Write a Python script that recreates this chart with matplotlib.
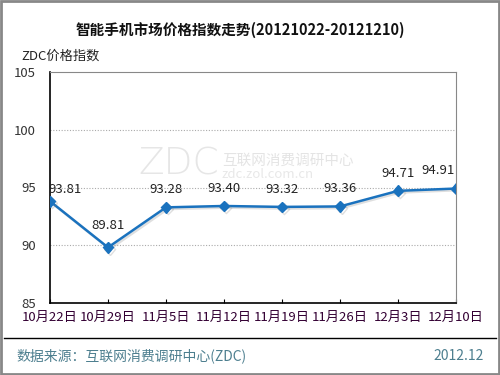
import matplotlib
matplotlib.use("Agg")
import matplotlib.pyplot as plt
import matplotlib.patheffects as pe
from matplotlib.patches import Rectangle

plt.rcParams['font.family'] = ['Noto Sans CJK SC', 'DejaVu Sans']

dates = ['10月22日', '10月29日', '11月5日', '11月12日', '11月19日', '11月26日', '12月3日', '12月10日']
index = [93.81, 89.81, 93.28, 93.40, 93.32, 93.36, 94.71, 94.91]
yticks = [85, 90, 95, 100, 105]

line_color = '#1a72be'
foot_color = '#4d7f8f'

fig = plt.figure(figsize=(5, 3.75), dpi=100)
ax = fig.add_axes([50 / 500, 1 - 303 / 375, 406 / 500, 231 / 375])

x = list(range(len(dates)))
ax.plot(x, index, color=line_color, lw=1.8, marker='D', ms=5.5, zorder=3,
        path_effects=[pe.SimpleLineShadow(offset=(1.2, -1.2), shadow_color='gray', alpha=0.25), pe.Normal()])

# value labels above points
for i, v in enumerate(index):
    dx, dy = 0, 8
    if i == 0:
        dx, dy = 11, 4
    elif i == len(index) - 1:
        dx, dy = -13, 8
    elif i == 1:
        dy = 11
    ax.annotate(f'{v:.2f}', (i, v), xytext=(dx, dy), textcoords='offset points',
                ha='center', va='bottom', fontsize=9.5, color='#222222')

ax.set_xlim(0, len(dates) - 1)
ax.set_ylim(85, 105)
ax.set_yticks(yticks)
ax.set_yticklabels([str(t) for t in yticks], fontsize=9.5, color='#333333')
ax.set_xticks(x)
ax.set_xticklabels(dates, fontsize=9.5, color='#330033')
ax.tick_params(axis='x', direction='in', length=3, pad=6)
ax.tick_params(axis='y', length=0, pad=10)
for t in [90, 95, 100]:
    ax.axhline(t, color='#aaaaaa', lw=0.8, ls=(0, (1, 1.5)), zorder=1)
ax.spines['left'].set_color('black')
ax.spines['bottom'].set_color('black')
ax.spines['top'].set_color('#888888')
ax.spines['right'].set_color('#888888')
for s in ['left', 'bottom']:
    ax.spines[s].set_linewidth(1.2)

# watermark
fig.text(138 / 500, 1 - 164 / 375, 'ZDC', fontsize=27, color='#e6e6e6', va='center', ha='left',
         family=['DejaVu Sans'], fontweight='light', zorder=0)
fig.text(222 / 500, 1 - 161 / 375, '互联网消费调研中心', fontsize=10.5, color='#e4e4e4', va='center',
         ha='left', zorder=0)
fig.text(222 / 500, 1 - 175 / 375, 'zdc.zol.com.cn', fontsize=9.5, color='#e8e8e8', va='center',
         ha='left', zorder=0)

fig.text(240 / 500, 1 - 30 / 375, '智能手机市场价格指数走势(20121022-20121210)', fontsize=10.5,
         fontweight='bold', ha='center', va='center', color='#111111')
fig.text(21 / 500, 1 - 56 / 375, 'ZDC价格指数', fontsize=9.5, ha='left', va='center', color='#222222')

fig.add_artist(plt.Line2D([4 / 500, 496 / 500], [1 - 338 / 375] * 2, color='black', lw=1))
fig.text(16 / 500, 1 - 356 / 375, '数据来源：互联网消费调研中心(ZDC)', fontsize=10, color=foot_color,
         ha='left', va='center')
fig.text(484 / 500, 1 - 356 / 375, '2012.12', fontsize=10, color=foot_color, ha='right', va='center')

fig.add_artist(Rectangle((0.002, 0.003), 0.996, 0.994, transform=fig.transFigure, fill=False,
                         edgecolor='#888888', lw=2))

fig.savefig('out.png', dpi=100)
